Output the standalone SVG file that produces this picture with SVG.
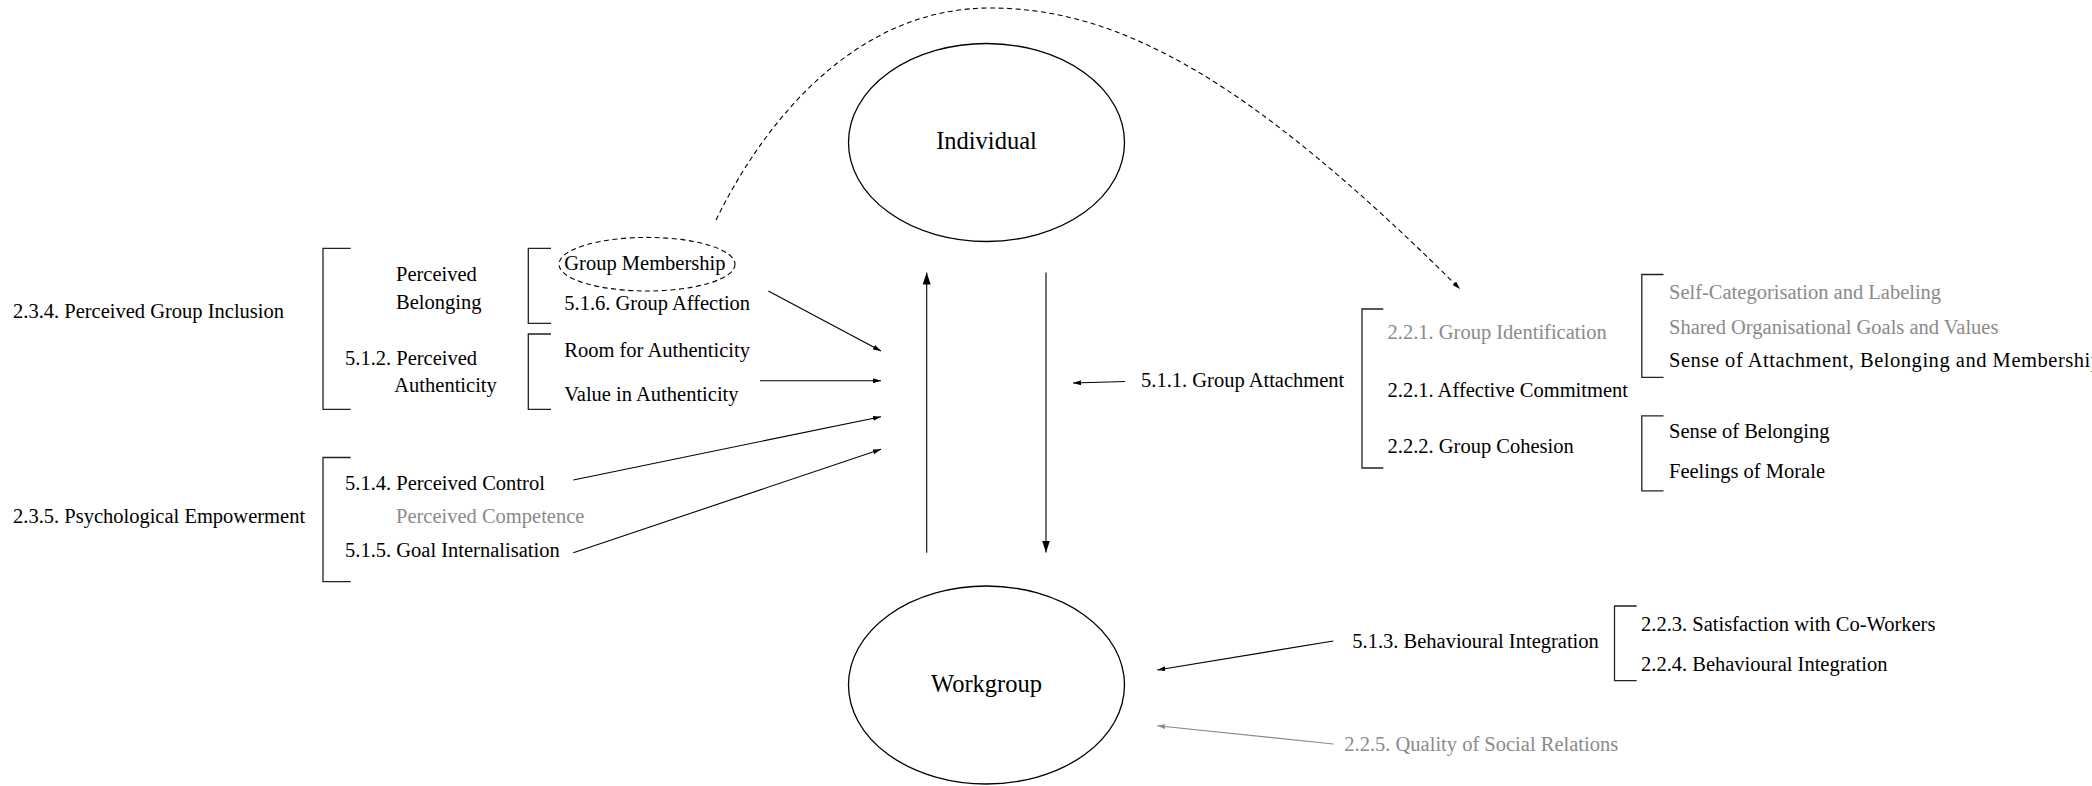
<svg xmlns="http://www.w3.org/2000/svg" width="2092" height="786" viewBox="0 0 2092 786">
<style>
text{font-family:"Liberation Serif","Times New Roman",serif;font-size:20.5px;fill:#000}
.g{fill:#8a8a8a}
.big{font-size:24.5px;text-anchor:middle}
.br{fill:none;stroke:#222;stroke-width:1.3}
.ln{fill:none;stroke:#000;stroke-width:1.1}
.lg{fill:none;stroke:#8a8a8a;stroke-width:1.1}
.dash{fill:none;stroke:#000;stroke-width:1.1;stroke-dasharray:5 3.5}
.el{fill:none;stroke:#000;stroke-width:1.3}
</style>
<defs>
<marker id="ahs" markerWidth="8" markerHeight="5" refX="8" refY="2.5" orient="auto" markerUnits="userSpaceOnUse"><path d="M0,0 L8,2.5 L0,5 z" fill="#000"/></marker>
<marker id="ahg" markerWidth="8" markerHeight="5" refX="8" refY="2.5" orient="auto" markerUnits="userSpaceOnUse"><path d="M0,0 L8,2.5 L0,5 z" fill="#8a8a8a"/></marker>
<marker id="ahb" markerWidth="12" markerHeight="8" refX="12" refY="4" orient="auto" markerUnits="userSpaceOnUse"><path d="M0,0 L12,4 L0,8 z" fill="#000"/></marker>
</defs>

<g id="individual">
<ellipse class="el" cx="986.5" cy="142.5" rx="138" ry="99"/>
<text class="big" x="986.5" y="149">Individual</text>
</g>
<g id="workgroup">
<ellipse class="el" cx="986.5" cy="685" rx="138" ry="99"/>
<text class="big" x="986.5" y="692">Workgroup</text>
</g>

<g id="perceived-group-inclusion">
<text x="13" y="317.5">2.3.4. Perceived Group Inclusion</text>
<path class="br" d="M350.7,248.3 H323 V409.3 H350.7"/>
</g>
<g id="perceived-belonging">
<text x="396" y="281">Perceived</text>
<text x="396" y="309">Belonging</text>
<path class="br" d="M551,248.3 H528.3 V323.3 H551"/>
</g>
<g id="group-membership">
<ellipse cx="647" cy="264.2" rx="88" ry="26.8" fill="none" stroke="#000" stroke-width="1.1" stroke-dasharray="5 3.5"/>
<text x="564.3" y="269.5">Group Membership</text>
</g>
<g id="group-affection"><text x="564.3" y="310">5.1.6. Group Affection</text></g>
<g id="perceived-authenticity">
<text x="345" y="365">5.1.2. Perceived</text>
<text x="394.3" y="391.5">Authenticity</text>
<path class="br" d="M551,334 H528.3 V409.3 H551"/>
</g>
<g id="room-authenticity"><text x="564.3" y="356.7">Room for Authenticity</text></g>
<g id="value-authenticity"><text x="564.3" y="400.7">Value in Authenticity</text></g>

<g id="psychological-empowerment">
<text x="13" y="523">2.3.5. Psychological Empowerment</text>
<path class="br" d="M350.7,457.5 H323 V581.7 H350.7"/>
</g>
<g id="perceived-control"><text x="345" y="490">5.1.4. Perceived Control</text></g>
<g id="perceived-competence"><text class="g" x="396" y="523">Perceived Competence</text></g>
<g id="goal-internalisation"><text x="345" y="556.7">5.1.5. Goal Internalisation</text></g>

<g id="group-attachment">
<text x="1141" y="387">5.1.1. Group Attachment</text>
<path class="br" d="M1383.3,309 H1362 V468 H1383.3"/>
</g>
<g id="group-identification">
<text class="g" x="1387.5" y="338.5">2.2.1. Group Identification</text>
<path class="br" d="M1663.5,274.5 H1641.8 V377.4 H1663.5"/>
<text class="g" x="1669" y="299">Self-Categorisation and Labeling</text>
<text class="g" x="1669" y="334">Shared Organisational Goals and Values</text>
<text x="1669" y="367" textLength="432" lengthAdjust="spacing">Sense of Attachment, Belonging and Membership</text>
</g>
<g id="affective-commitment"><text x="1387.5" y="396.7">2.2.1. Affective Commitment</text></g>
<g id="group-cohesion">
<text x="1387.5" y="452.8">2.2.2. Group Cohesion</text>
<path class="br" d="M1663.5,415.8 H1641.8 V490.8 H1663.5"/>
<text x="1669" y="438">Sense of Belonging</text>
<text x="1669" y="478">Feelings of Morale</text>
</g>

<g id="behavioural-integration">
<text x="1352.3" y="648">5.1.3. Behavioural Integration</text>
<path class="br" d="M1636.7,606 H1614.5 V680.7 H1636.7"/>
<text x="1641" y="630.5">2.2.3. Satisfaction with Co-Workers</text>
<text x="1641" y="670.5">2.2.4. Behavioural Integration</text>
</g>
<g id="quality-social-relations"><text class="g" x="1344.3" y="750.5">2.2.5. Quality of Social Relations</text></g>

<g id="connectors">
<path class="dash" d="M716,220 C760,130 850,8 990,8 C1120,8 1250,80 1460,289" marker-end="url(#ahs)"/>
<line class="ln" x1="768.3" y1="291" x2="881" y2="351" marker-end="url(#ahs)"/>
<line class="ln" x1="760" y1="380.7" x2="881" y2="380.7" marker-end="url(#ahs)"/>
<line class="ln" x1="573.3" y1="480" x2="881" y2="416.7" marker-end="url(#ahs)"/>
<line class="ln" x1="573.3" y1="552.7" x2="881" y2="449.3" marker-end="url(#ahs)"/>
<line class="ln" x1="926.7" y1="552.7" x2="926.7" y2="272.5" marker-end="url(#ahb)"/>
<line class="ln" x1="1046" y1="272.5" x2="1046" y2="552.5" marker-end="url(#ahb)"/>
<line class="ln" x1="1125" y1="381.5" x2="1073" y2="383" marker-end="url(#ahs)"/>
<line class="ln" x1="1333.3" y1="641" x2="1157.3" y2="670" marker-end="url(#ahs)"/>
<line class="lg" x1="1333.3" y1="744" x2="1157.3" y2="725.7" marker-end="url(#ahg)"/>
</g>
</svg>
